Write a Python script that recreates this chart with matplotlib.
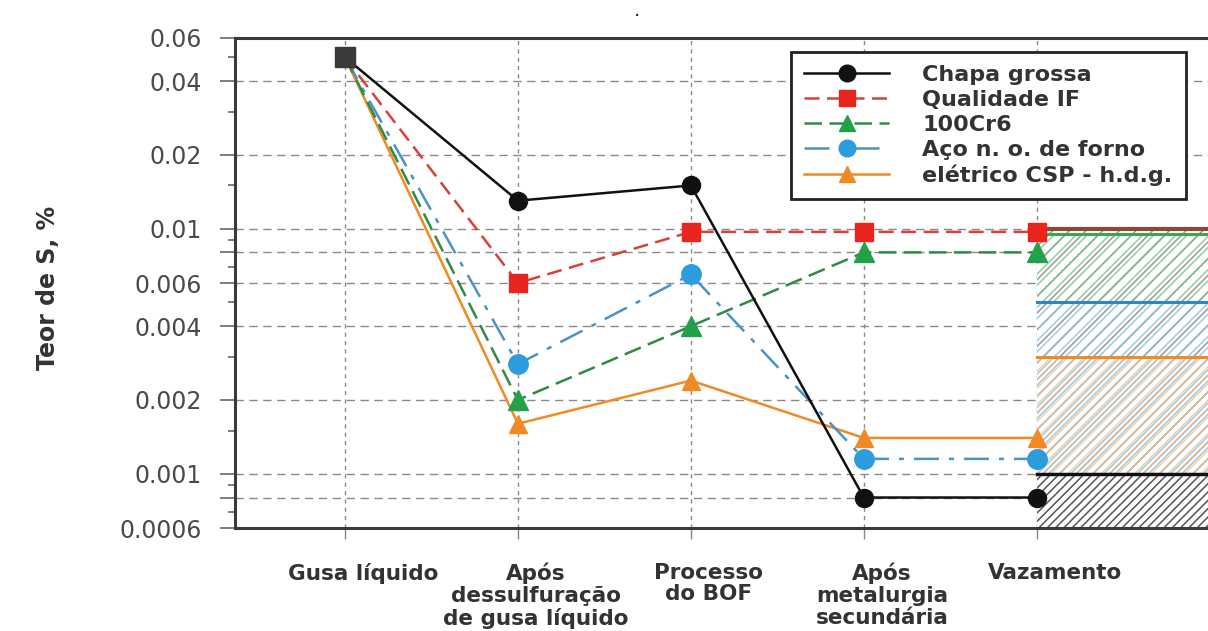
import numpy as np
import matplotlib.pyplot as plt
import matplotlib.transforms as mtransforms
from matplotlib.ticker import FixedLocator, FixedFormatter

plt.rcParams['font.family'] = ['DejaVu Sans']
plt.rcParams['hatch.linewidth'] = 1.1

# data
stages = ['Gusa líquido', 'Após\ndessulfuração\nde gusa líquido', 'Processo\ndo BOF',
          'Após\nmetalurgia\nsecundária', 'Vazamento']
chapa_grossa = [0.05, 0.013, 0.015, 0.0008, 0.0008]
qualidade_if = [0.05, 0.006, 0.0097, 0.0097, 0.0097]
cr6 = [0.05, 0.002, 0.004, 0.008, 0.008]
aco_no = [0.05, 0.0028, 0.0065, 0.00115, 0.00115]
aco_csp = [0.05, 0.0016, 0.0024, 0.0014, 0.0014]
# limits drawn to the right of "Vazamento"
limit_chapa = 0.001
limit_if = 0.01
limit_cr6 = 0.0095
limit_no = 0.005
limit_csp = 0.003

y_ticks = [0.0006, 0.0008, 0.001, 0.002, 0.004, 0.006, 0.008, 0.01, 0.02, 0.04, 0.06]
y_labels = ['0.0006', '', '0.001', '0.002', '0.004', '0.006', '', '0.01', '0.02', '0.04', '0.06']
y_minor = [0.0007, 0.0009, 0.0015, 0.003, 0.005, 0.007, 0.009, 0.015, 0.03, 0.05]

txt = '#333333'
fig = plt.figure(figsize=(12.08, 6.31), dpi=100)
ax = fig.add_axes([0.1945, 0.163, 0.8055, 0.777])
x = np.arange(len(stages))

ax.set_yscale('log')
ax.set_ylim(0.0006, 0.06)
ax.set_xlim(-0.636, 4.99)

# hatched target region after Vazamento
xr = [4, 6]
ax.fill_between(xr, 0.0006, 0.0102, color='white', zorder=1.5)
ax.fill_between(xr, limit_chapa, limit_if, facecolor='none', edgecolor='#7a6a66',
                hatch='//', linewidth=0, alpha=0.7, zorder=1.6)
ax.fill_between(xr, limit_no, limit_cr6, facecolor='none', edgecolor='#6cc48a',
                hatch='///', linewidth=0, alpha=0.8, zorder=1.7)
ax.fill_between(xr, limit_chapa, limit_no, facecolor='none', edgecolor='#7cc0ea',
                hatch='///', linewidth=0, alpha=0.8, zorder=1.7)
ax.fill_between(xr, limit_chapa, limit_csp, facecolor='none', edgecolor='#f3c08a',
                hatch='////', linewidth=0, alpha=0.8, zorder=1.8)
ax.fill_between(xr, 0.0006, limit_chapa, facecolor='none', edgecolor='#555555',
                hatch='////', linewidth=0, zorder=1.8)

ax.plot(xr, [limit_if] * 2, color='#8c4a35', lw=3, zorder=2)
ax.plot(xr, [limit_cr6] * 2, color='#3aa655', lw=2.2, zorder=2)
ax.plot(xr, [limit_no] * 2, color='#2f86c6', lw=2.2, zorder=2)
ax.plot(xr, [limit_csp] * 2, color='#f08a24', lw=2.2, zorder=2)
ax.plot(xr, [limit_chapa] * 2, color='#111111', lw=2.5, zorder=2)

# series
mev = [1, 2, 3, 4]
ax.plot(x, aco_csp, color='#f08a24', lw=1.8, marker='^', ms=13, markevery=mev,
        label='elétrico CSP - h.d.g.', zorder=3)
ax.plot(x, aco_no, color='#4b93c6', lw=1.8, dashes=(10, 4, 2, 4), marker='o', ms=14,
        mfc='#2c9ddc', mec='#2c9ddc', markevery=mev, label='Aço n. o. de forno', zorder=3.1)
ax.plot(x, cr6, color='#2e8b45', lw=1.8, dashes=(7, 3), marker='^', ms=14,
        mfc='#23a04a', mec='#23a04a', markevery=mev, label='100Cr6', zorder=3.2)
ax.plot(x, qualidade_if, color='#d8403c', lw=1.8, dashes=(6, 3), marker='s', ms=13,
        mfc='#e8241c', mec='#e8241c', markevery=mev, label='Qualidade IF', zorder=3.3)
ax.plot(x, chapa_grossa, color='#111111', lw=1.8, marker='o', ms=13, markevery=mev,
        label='Chapa grossa', zorder=3.4)
ax.plot(x[0], chapa_grossa[0], marker='s', ms=15, color='#3a3a3a', zorder=4)

# axes
ax.yaxis.set_major_locator(FixedLocator(y_ticks))
ax.yaxis.set_major_formatter(FixedFormatter(y_labels))
ax.yaxis.set_minor_locator(FixedLocator(y_minor))
ax.yaxis.set_minor_formatter(FixedFormatter([''] * len(y_minor)))
ax.tick_params(axis='y', which='major', direction='out', length=11, width=1.2,
               color='#666666', pad=13, labelsize=17, labelcolor='#4a4a4a')
ax.tick_params(axis='y', which='minor', direction='out', length=5, width=1.2, color='#666666')
ax.set_xticks(x)
ax.set_xticklabels(stages, fontsize=15.5, fontweight='bold', color=txt, linespacing=1.1,
                   va='top')
ax.tick_params(axis='x', direction='out', length=8, width=1, color='#888888', pad=17)
shift = mtransforms.ScaledTranslation(18 / 100, 0, fig.dpi_scale_trans)
for lab in ax.get_xticklabels():
    lab.set_transform(lab.get_transform() + shift)

ax.grid(True, axis='y', which='major', ls=(0, (6, 4)), color='#8a8a8a', lw=1)
ax.grid(True, axis='x', ls=(0, (3, 3)), color='#8a8a8a', lw=1)
ax.set_axisbelow(True)

for s in ['left', 'bottom', 'top']:
    ax.spines[s].set_linewidth(2.2)
    ax.spines[s].set_color('#3a3a3a')
ax.spines['right'].set_visible(False)

ax.set_ylabel('Teor de S, %', fontsize=17, fontweight='bold', color=txt)
ax.yaxis.set_label_coords(-0.18, 0.49)

handles, labels = ax.get_legend_handles_labels()
leg = ax.legend(handles[::-1], labels[::-1], loc='upper right', bbox_to_anchor=(0.977, 0.972),
                prop={'size': 16, 'weight': 'bold'}, labelcolor=txt, fancybox=False,
                framealpha=1, edgecolor='#222222', borderpad=0.6, labelspacing=0.22,
                handlelength=3.8, handletextpad=1.5, borderaxespad=0)
leg.get_frame().set_linewidth(2)
leg.set_zorder(5)
for h in leg.legend_handles:
    h.set_markersize(12)

fig.text(0.527, 0.975, '.', fontsize=14, color='#222222', ha='center')

fig.savefig('out.png', dpi=100, facecolor='white')
